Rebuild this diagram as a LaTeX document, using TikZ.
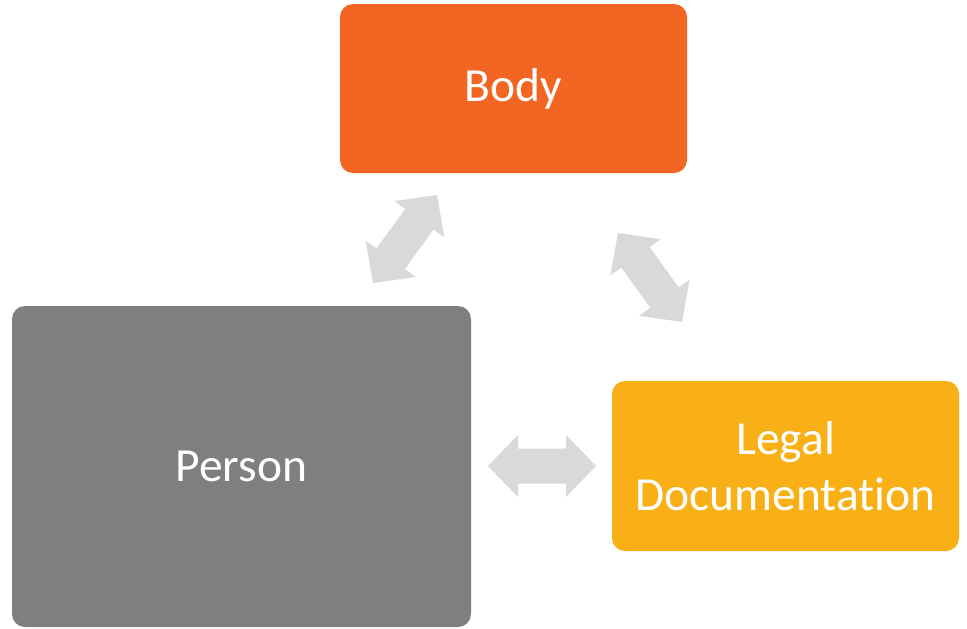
\documentclass[tikz,border=0pt]{standalone}
\usepackage{fontspec}
\setmainfont[Ligatures=NoCommon]{Carlito}
\usetikzlibrary{calc}
\definecolor{bodyc}{HTML}{F26522}
\definecolor{personc}{HTML}{7F7F7F}
\definecolor{legalc}{HTML}{F8B016}
\definecolor{arrc}{HTML}{D9D9D9}
\newcommand\dblarrow[2]{%
 \coordinate (#1h) at ($(#1)!30pt!(#2)$);
 \coordinate (#2h) at ($(#2)!30pt!(#1)$);
 \fill[arrowfill] (#1) -- ($(#1h)!31pt!90:(#2)$) -- ($(#1h)!17.5pt!90:(#2)$)
   -- ($(#2h)!17.5pt!-90:(#1)$) -- ($(#2h)!31pt!-90:(#1)$) -- (#2)
   -- ($(#2h)!31pt!90:(#1)$) -- ($(#2h)!17.5pt!90:(#1)$)
   -- ($(#1h)!17.5pt!-90:(#2)$) -- ($(#1h)!31pt!-90:(#2)$) -- cycle;}
\begin{document}
\begin{tikzpicture}[x=1pt,y=-1pt,
  box/.style={rounded corners=13pt, text=white, font=\fontsize{47.5}{56}\selectfont, align=center, inner sep=0pt},
  arrowfill/.style={fill=arrc}]
\useasboundingbox (0,0) rectangle (967,629);
\fill[white] (0,0) rectangle (967,629);
\node[box, fill=bodyc, minimum width=347pt, minimum height=169pt] (body) at (513.5,88.5) {Body};
\node[box, fill=personc, minimum width=459pt, minimum height=321pt] (person) at (241.5,466.5) {Person};
\node[box, fill=legalc, minimum width=347pt, minimum height=170pt] (legal) at (785.5,466) {Legal\\Documentation};
\coordinate (a1) at (373,283);
\coordinate (b1) at (437,195);
\coordinate (a2) at (618,233);
\coordinate (b2) at (682,322);
\coordinate (a3) at (488,466);
\coordinate (b3) at (596,466);
\dblarrow{a1}{b1}
\dblarrow{a2}{b2}
\dblarrow{a3}{b3}
\end{tikzpicture}
\end{document}
